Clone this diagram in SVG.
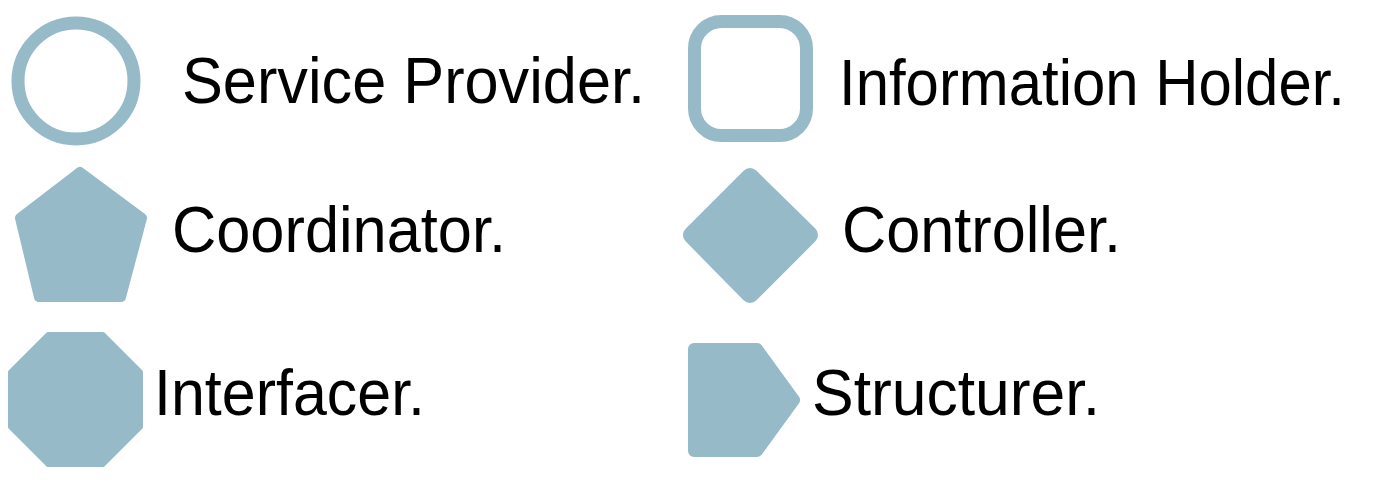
<svg xmlns="http://www.w3.org/2000/svg" width="1378" height="484" viewBox="0 0 1378 484">
  <style>
    .sym-out { fill: none; stroke: #96BAC7; stroke-width: 13; }
    .sym-fill { fill: #96BAC7; stroke: #96BAC7; stroke-linejoin: round; }
    .lbl { font-family: "Liberation Sans", Arial, Helvetica, sans-serif; font-size: 64px; fill: #000000; }
  </style>
  <rect x="0" y="0" width="1378" height="484" fill="#FFFFFF"/>
  <g id="service-provider">
    <circle class="sym-out" cx="76" cy="81" r="58"/>
    <text class="lbl" x="182" y="103" textLength="463" lengthAdjust="spacingAndGlyphs">Service Provider.</text>
  </g>
  <g id="information-holder">
    <rect class="sym-out" x="694.5" y="21.5" width="112" height="114" rx="27" ry="27"/>
    <text class="lbl" x="839" y="105" textLength="506" lengthAdjust="spacingAndGlyphs">Information Holder.</text>
  </g>
  <g id="coordinator">
    <polygon class="sym-fill" stroke-width="10" points="80,172 142,218 121,297 39,297 20,218"/>
    <text class="lbl" x="172" y="252" textLength="334" lengthAdjust="spacingAndGlyphs">Coordinator.</text>
  </g>
  <g id="controller">
    <polygon class="sym-fill" stroke-width="18" points="750,177 809,235 750,294 692,235"/>
    <text class="lbl" x="842" y="252" textLength="279" lengthAdjust="spacingAndGlyphs">Controller.</text>
  </g>
  <g id="interfacer">
    <polygon class="sym-fill" stroke-width="4" points="48,334 103,334 141,372 141,427 103,465 48,465 10,427 10,372"/>
    <text class="lbl" x="154" y="415" textLength="271" lengthAdjust="spacingAndGlyphs">Interfacer.</text>
  </g>
  <g id="structurer">
    <polygon class="sym-fill" stroke-width="12" points="694,349 757,349 794,400 757,451 694,451"/>
    <text class="lbl" x="812" y="415" textLength="288" lengthAdjust="spacingAndGlyphs">Structurer.</text>
  </g>
  <g id="connectors"/>
</svg>
